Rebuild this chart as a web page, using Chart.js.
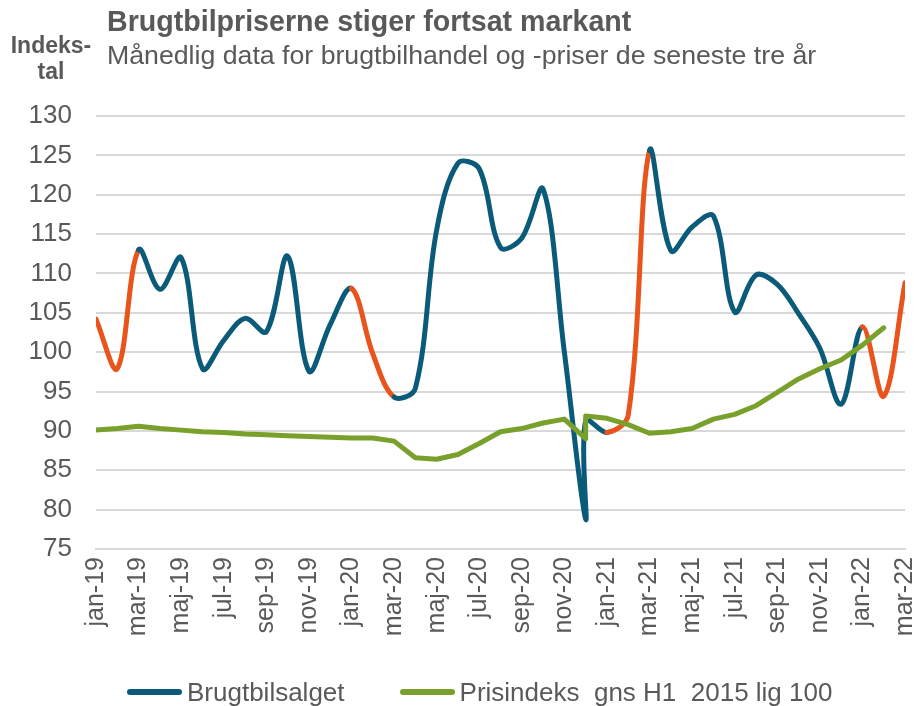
<!DOCTYPE html>
<html lang="da">
<head>
<meta charset="utf-8">
<title>Brugtbilpriserne stiger fortsat markant</title>
<script src="https://cdn.jsdelivr.net/npm/chart.js@4.4.1/dist/chart.umd.min.js"></script>
<style>
    body { margin: 0; background: #ffffff; }
    #ramme { position: relative; width: 914px; height: 706px; font-family: 'Liberation Sans', Arial, sans-serif; color: #595959; }
    #graf { position: absolute; left: 0; top: 0; }
    .titel { position: absolute; left: 107px; top: 7px; font-size: 28.6px; font-weight: bold; line-height: 28px; white-space: nowrap; }
    .undertitel { position: absolute; left: 107px; top: 42px; font-size: 26.7px; line-height: 26px; white-space: nowrap; }
    .akse { position: absolute; left: 1px; top: 32px; width: 100px; text-align: center; font-size: 23px; font-weight: bold; line-height: 26px; }
    #legende { position: absolute; left: 127px; top: 679px; display: flex; font-size: 26px; line-height: 26px; white-space: pre; }
    .punkt { display: flex; align-items: center; }
    .streg { width: 55px; height: 6px; border-radius: 3px; margin-right: 5px; }
</style>
</head>
<body>
<div id="ramme">
    <canvas id="graf" width="914" height="706"></canvas>
    <div class="titel">Brugtbilpriserne stiger fortsat markant</div>
    <div class="undertitel">Månedlig data for brugtbilhandel og -priser de seneste tre år</div>
    <div class="akse">Indeks-<br>tal</div>
    <div id="legende"></div>
</div>
<script>
// alle måneder på x-aksen
const maanedsNavne = ['jan-19', 'feb-19', 'mar-19', 'apr-19', 'maj-19', 'jun-19', 'jul-19', 'aug-19', 'sep-19', 'okt-19', 'nov-19', 'dec-19',
    'jan-20', 'feb-20', 'mar-20', 'apr-20', 'maj-20', 'jun-20', 'jul-20', 'aug-20', 'sep-20', 'okt-20', 'nov-20', 'dec-20',
    'jan-21', 'feb-21', 'mar-21', 'apr-21', 'maj-21', 'jun-21', 'jul-21', 'aug-21', 'sep-21', 'okt-21', 'nov-21', 'dec-21',
    'jan-22', 'feb-22', 'mar-22'];

// datarækkerne - dec-20 optræder to gange (databrud)
const maaneder = ['jan-19', 'feb-19', 'mar-19', 'apr-19', 'maj-19', 'jun-19', 'jul-19', 'aug-19', 'sep-19', 'okt-19', 'nov-19', 'dec-19',
    'jan-20', 'feb-20', 'mar-20', 'apr-20', 'maj-20', 'jun-20', 'jul-20', 'aug-20', 'sep-20', 'okt-20', 'nov-20', 'dec-20', 'dec-20',
    'jan-21', 'feb-21', 'mar-21', 'apr-21', 'maj-21', 'jun-21', 'jul-21', 'aug-21', 'sep-21', 'okt-21', 'nov-21', 'dec-21',
    'jan-22', 'feb-22', 'mar-22'];

const brugtbilsalget = [104.2, 97.9, 113.0, 108.0, 112.0, 97.9, 101.5, 104.3, 102.6, 112.2, 97.6, 103.5,
    108.1, 99.8, 94.3, 95.4, 115.5, 124.0, 123.3, 113.3, 114.5, 120.7, 100.0, 78.8, 91.3,
    89.8, 92.0, 125.6, 112.9, 115.9, 117.3, 105.1, 109.8, 108.6, 104.9, 100.5, 93.4,
    103.2, 94.4, 108.8];

const prisindeks = [90.1, 90.3, 90.6, 90.3, 90.1, 89.9, 89.8, 89.6, 89.5, 89.4, 89.3, 89.2,
    89.1, 89.1, 88.7, 86.6, 86.4, 87.0, 88.4, 89.9, 90.3, 91.0, 91.5, 89.0, 91.9,
    91.6, 90.8, 89.7, 89.9, 90.3, 91.5, 92.1, 93.2, 94.9, 96.6, 97.9, 99.0,
    100.9, 103.1, null];

const yTicks = [75, 80, 85, 90, 95, 100, 105, 110, 115, 120, 125, 130];

const blaa = '#0a5a79';
const orange = '#e9541d';
const groen = '#78a02b';
const graa = '#595959';

function tilPunkter(vaerdier) {
    return vaerdier.map(function(v, i) {
        return { x: maanedsNavne.indexOf(maaneder[i]), y: v };
    });
}

// jan->mar hvert år tegnes orange
function segmentFarve(ctx) {
    const m = ctx.p0.parsed.x % 12;
    return (m === 0 || m === 1) ? orange : blaa;
}

const ctx = document.getElementById('graf').getContext('2d');

const chart = new Chart(ctx, {
    type: 'line',
    data: {
        datasets: [{
            label: 'Brugtbilsalget',
            data: tilPunkter(brugtbilsalget),
            borderColor: blaa,
            backgroundColor: blaa,
            borderWidth: 5,
            tension: 0.35,
            pointRadius: 0,
            borderCapStyle: 'round',
            borderJoinStyle: 'round',
            segment: { borderColor: segmentFarve },
            order: 1
        }, {
            label: 'Prisindeks  gns H1  2015 lig 100',
            data: tilPunkter(prisindeks),
            borderColor: groen,
            backgroundColor: groen,
            borderWidth: 5,
            tension: 0,
            pointRadius: 0,
            borderCapStyle: 'round',
            borderJoinStyle: 'round',
            order: 0
        }]
    },
    options: {
        responsive: false,
        animation: false,
        layout: { padding: { left: 0, right: 9, top: 116, bottom: 0 } },
        scales: {
            x: {
                type: 'linear',
                min: 0,
                max: maanedsNavne.length - 1,
                grid: { display: false },
                border: { display: true, color: '#d9d9d9', width: 2 },
                ticks: {
                    stepSize: 2,
                    autoSkip: false,
                    minRotation: 90,
                    maxRotation: 90,
                    padding: 0,
                    color: graa,
                    font: { family: "'Liberation Sans', Arial, sans-serif", size: 25 },
                    callback: function(v) { return maanedsNavne[v]; }
                },
                afterFit: function(scale) {
                    scale.height = 157;
                    scale.paddingLeft = 0;
                    scale.paddingRight = 0;
                }
            },
            y: {
                min: 75,
                max: 130,
                afterBuildTicks: function(scale) {
                    scale.ticks = yTicks.map(function(v) { return { value: v }; });
                },
                grid: { color: '#d9d9d9', lineWidth: 2, drawTicks: false },
                border: { display: false },
                ticks: {
                    padding: 24,
                    color: graa,
                    font: { family: "'Liberation Sans', Arial, sans-serif", size: 26 }
                },
                afterFit: function(scale) {
                    scale.width = 96;
                }
            }
        },
        plugins: {
            legend: { display: false },
            tooltip: { enabled: false }
        }
    }
});

// legende som html
const legende = document.getElementById('legende');
chart.data.datasets.forEach(function(ds, i) {
    const punkt = document.createElement('div');
    punkt.className = 'punkt';
    if (i > 0) punkt.style.marginLeft = '55px';
    const streg = document.createElement('div');
    streg.className = 'streg';
    streg.style.background = ds.borderColor;
    const tekst = document.createElement('span');
    tekst.textContent = ds.label;
    punkt.appendChild(streg);
    punkt.appendChild(tekst);
    legende.appendChild(punkt);
});
</script>
</body>
</html>
